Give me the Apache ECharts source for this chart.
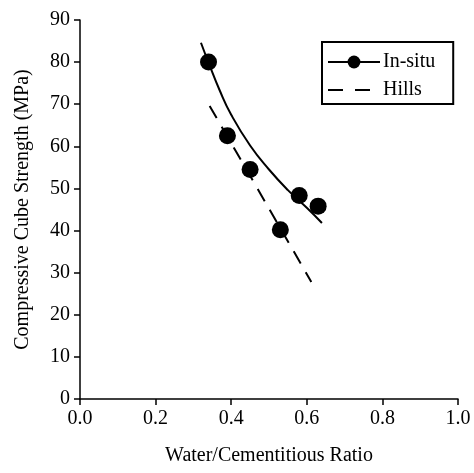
<!DOCTYPE html>
<html>
<head>
<meta charset="utf-8">
<script src="https://cdn.jsdelivr.net/npm/echarts@6/dist/echarts.min.js"></script>
<style>
  html, body { margin: 0; padding: 0; background: #fff; }
  #chart { width: 474px; height: 473px; }
</style>
</head>
<body>
<div id="chart"></div>
<script>
// Measured cube strengths versus water/cementitious ratio
var insituRatio = [0.34, 0.39, 0.45, 0.53, 0.58, 0.63];
var insituStrength = [80.0, 62.5, 54.5, 40.2, 48.3, 45.8];

// Fitted trend through the in-situ results
var fitRatio = [0.32, 0.34, 0.37, 0.40, 0.45, 0.50, 0.55, 0.60, 0.64];
var fitStrength = [84.6, 79.9, 73.2, 67.5, 60.2, 54.5, 49.6, 45.4, 41.8];

// Hills relationship
var hillsRatio = [0.343, 0.45, 0.612];
var hillsStrength = [69.6, 53.0, 27.8];

var xTicks = [0, 0.2, 0.4, 0.6, 0.8, 1.0];
var yTicks = [0, 10, 20, 30, 40, 50, 60, 70, 80, 90];

function pairs(xs, ys) {
  return xs.map(function (x, i) { return [x, ys[i]]; });
}

var FONT = 'Liberation Serif';
var chart = echarts.init(document.getElementById('chart'), null, { renderer: 'canvas' });

chart.setOption({
  animation: false,
  backgroundColor: '#ffffff',
  textStyle: { fontFamily: FONT, color: '#000' },
  grid: { left: 80, right: 16, top: 20, bottom: 74, containLabel: false },
  legend: {
    data: [
      { name: 'In-situ' },
      // dashed line only, no marker
      {
        name: 'Hills',
        itemStyle: { color: 'rgba(0,0,0,0)', borderWidth: 0, opacity: 0 },
        lineStyle: { type: [15, 12] }
      }
    ],
    orient: 'vertical',
    left: 322,
    top: 42,
    padding: [10, 18, 4, 5],
    itemWidth: 52,
    itemHeight: 16,
    itemGap: 8,
    borderColor: '#000',
    borderWidth: 2,
    textStyle: { fontFamily: FONT, fontSize: 20, color: '#000', padding: [0, 0, 0, -2] }
  },
  xAxis: {
    type: 'value',
    min: xTicks[0],
    max: xTicks[xTicks.length - 1],
    interval: 0.2,
    name: 'Water/Cementitious Ratio',
    nameLocation: 'middle',
    nameGap: 47,
    nameTextStyle: { fontFamily: FONT, fontSize: 20, color: '#000' },
    axisLine: { lineStyle: { color: '#000', width: 1.5 } },
    axisTick: { inside: false, length: 6, lineStyle: { color: '#000', width: 1.5 } },
    axisLabel: {
      margin: 10, fontFamily: FONT, fontSize: 20, color: '#000',
      formatter: function (v) { return v.toFixed(1); }
    },
    splitLine: { show: false }
  },
  yAxis: {
    type: 'value',
    min: yTicks[0],
    max: yTicks[yTicks.length - 1],
    interval: 10,
    name: 'Compressive Cube Strength (MPa)',
    nameLocation: 'middle',
    nameGap: 47,
    nameTextStyle: { fontFamily: FONT, fontSize: 20, color: '#000' },
    axisLine: { show: true, lineStyle: { color: '#000', width: 1.5 } },
    axisTick: { show: true, inside: false, length: 6, lineStyle: { color: '#000', width: 1.5 } },
    axisLabel: { margin: 10, fontFamily: FONT, fontSize: 20, color: '#000' },
    splitLine: { show: false }
  },
  series: [
    {
      name: 'In-situ',
      type: 'line',
      data: pairs(fitRatio, fitStrength),
      smooth: true,
      showSymbol: false,
      symbol: 'circle',
      symbolSize: 16,
      color: '#000',
      itemStyle: { color: '#000' },
      lineStyle: { color: '#000', width: 2 },
      z: 2
    },
    {
      name: 'In-situ points',
      type: 'scatter',
      data: pairs(insituRatio, insituStrength),
      symbol: 'circle',
      symbolSize: 17,
      itemStyle: { color: '#000', opacity: 1 },
      z: 3
    },
    {
      name: 'Hills',
      type: 'line',
      data: pairs(hillsRatio, hillsStrength),
      showSymbol: false,
      symbol: 'none',
      color: '#000',
      lineStyle: { color: '#000', width: 2, type: [14, 10] },
      z: 2
    }
  ]
});
</script>
</body>
</html>
